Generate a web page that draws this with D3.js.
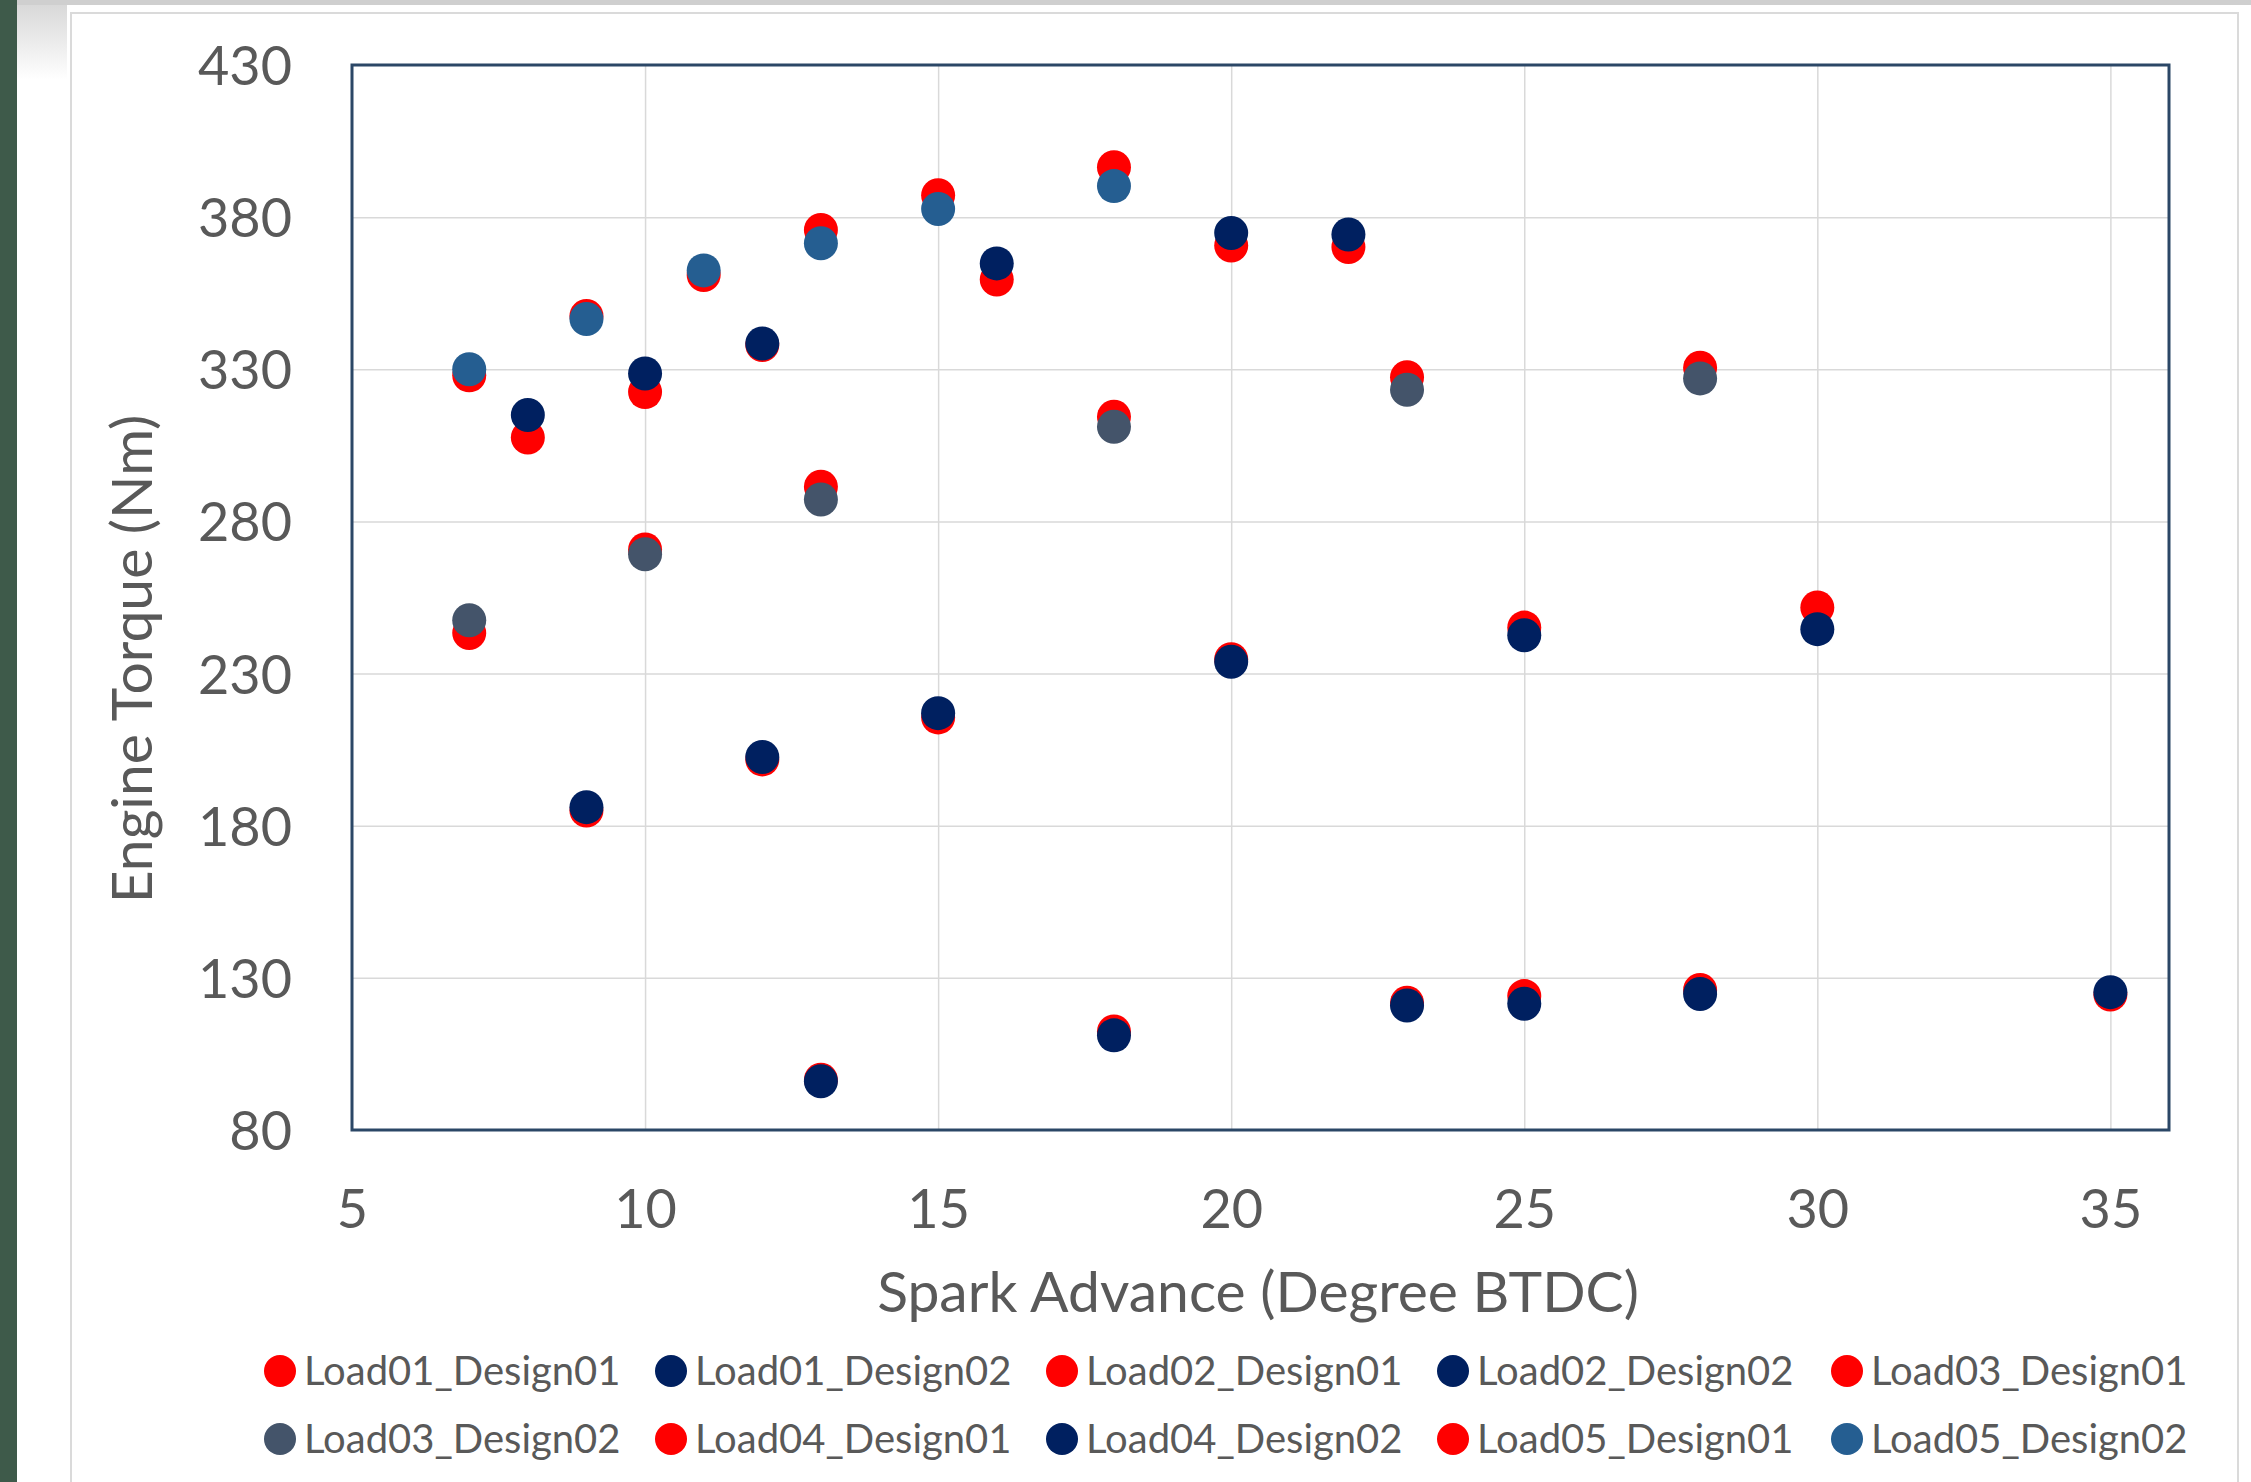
<!DOCTYPE html>
<html>
<head>
<meta charset="utf-8">
<script src="https://cdn.jsdelivr.net/npm/d3@7"></script>
<style>
  html, body { margin: 0; padding: 0; background: #ffffff; }
  svg { display: block; }
</style>
</head>
<body>
<svg id="chart" width="2251" height="1482"></svg>
<script>
// ---- Data ----
const xTicks = [5, 10, 15, 20, 25, 30, 35];
const yTicks = [80, 130, 180, 230, 280, 330, 380, 430];

const xLoad01 = [13, 18, 23, 25, 28, 35];
const load01Design01 = [96.5, 112.4, 121.8, 124, 126, 124.5];
const load01Design02 = [96, 111.1, 120.9, 121.5, 124.7, 125.3];

const xLoad02 = [9, 12, 15, 20, 25, 30];
const load02Design01 = [185, 201.8, 215.6, 234.7, 245.1, 251.7];
const load02Design02 = [186.1, 202.6, 217, 233.9, 242.6, 244.6];

const xLoad03 = [7, 10, 13, 18, 23, 28];
const load03Design01 = [243.3, 270.8, 291.4, 314.4, 327.4, 330.5];
const load03Design02 = [247.5, 269.2, 287.2, 311.1, 323.3, 327];

const xLoad04 = [8, 10, 12, 16, 20, 22];
const load04Design01 = [307.6, 322.5, 338, 359.5, 370.7, 370.2];
const load04Design02 = [315, 328.6, 338.5, 364.8, 374.8, 374.3];

const xLoad05 = [7, 9, 11, 13, 15, 18];
const load05Design01 = [328, 347.5, 361, 375.8, 387.2, 396.4];
const load05Design02 = [330, 346.5, 362.5, 371.4, 382.7, 390.2];

const seriesNames = ["Load01_Design01", "Load01_Design02", "Load02_Design01", "Load02_Design02",
  "Load03_Design01", "Load03_Design02", "Load04_Design01", "Load04_Design02",
  "Load05_Design01", "Load05_Design02"];
const seriesX = [xLoad01, xLoad01, xLoad02, xLoad02, xLoad03, xLoad03, xLoad04, xLoad04, xLoad05, xLoad05];
const seriesY = [load01Design01, load01Design02, load02Design01, load02Design02,
  load03Design01, load03Design02, load04Design01, load04Design02, load05Design01, load05Design02];
const seriesColors = ["#FF0000", "#002060", "#FF0000", "#002060", "#FF0000", "#44546A",
  "#FF0000", "#002060", "#FF0000", "#255E91"];

const xTitle = "Spark Advance (Degree BTDC)";
const yTitle = "Engine Torque (Nm)";

// ---- Layout ----
const W = 2251, H = 1482;
const plot = { left: 352, right: 2169, top: 65, bottom: 1130 };
const FONT = "Lato, 'Open Sans', sans-serif";
const TEXT = "#595959";

const svg = d3.select("#chart");

// background frame (photo surroundings)
svg.append("rect").attr("x", 0).attr("y", 0).attr("width", W).attr("height", H).attr("fill", "#ffffff");
const grad = svg.append("defs").append("linearGradient").attr("id", "topfade")
  .attr("x1", 0).attr("y1", 0).attr("x2", 0).attr("y2", 1);
grad.append("stop").attr("offset", 0).attr("stop-color", "#d6d6d6");
grad.append("stop").attr("offset", 1).attr("stop-color", "#ffffff");
svg.append("rect").attr("x", 17).attr("y", 0).attr("width", 50).attr("height", 80).attr("fill", "url(#topfade)");
svg.append("rect").attr("x", 17).attr("y", 0).attr("width", W - 17).attr("height", 5).attr("fill", "#cfcfcf");
svg.append("rect").attr("x", 0).attr("y", 0).attr("width", 17).attr("height", H).attr("fill", "#3E5A4A");
svg.append("rect").attr("x", 71).attr("y", 13).attr("width", 2238 - 71).attr("height", H)
  .attr("fill", "none").attr("stroke", "#dadada").attr("stroke-width", 2);

// ---- Scales ----
const x = d3.scaleLinear().domain([5, 36]).range([plot.left, plot.right]);
const y = d3.scaleLinear().domain([80, 430]).range([plot.bottom, plot.top]);

// gridlines
const gx = svg.append("g").attr("transform", `translate(0,${plot.bottom})`)
  .call(d3.axisBottom(x).tickValues(xTicks.filter(v => v > 5)).tickSize(-(plot.bottom - plot.top)).tickFormat(""));
gx.select(".domain").remove();
gx.selectAll("line").attr("stroke", "#d9d9d9").attr("stroke-width", 1.5);

const gy = svg.append("g").attr("transform", `translate(${plot.left},0)`)
  .call(d3.axisLeft(y).tickValues(yTicks.filter(v => v > 80 && v < 430)).tickSize(-(plot.right - plot.left)).tickFormat(""));
gy.select(".domain").remove();
gy.selectAll("line").attr("stroke", "#d9d9d9").attr("stroke-width", 1.5);

// tick labels via axes
const ax = svg.append("g").attr("transform", `translate(0,${plot.bottom})`)
  .call(d3.axisBottom(x).tickValues(xTicks).tickSize(0).tickPadding(60).tickFormat(d3.format("d")));
ax.select(".domain").remove();
ax.selectAll("text").attr("font-family", FONT).attr("font-size", 54).attr("fill", TEXT);

const ay = svg.append("g").attr("transform", `translate(${plot.left},0)`)
  .call(d3.axisLeft(y).tickValues(yTicks).tickSize(0).tickPadding(60).tickFormat(d3.format("d")));
ay.select(".domain").remove();
ay.selectAll("text").attr("font-family", FONT).attr("font-size", 54).attr("fill", TEXT).attr("dy", "0.36em");

// plot border
svg.append("rect").attr("x", plot.left).attr("y", plot.top)
  .attr("width", plot.right - plot.left).attr("height", plot.bottom - plot.top)
  .attr("fill", "none").attr("stroke", "#2B4766").attr("stroke-width", 3);

// points
const R = 17;
seriesNames.forEach((name, i) => {
  const pts = seriesX[i].map((xv, j) => ({ x: xv, y: seriesY[i][j] }));
  svg.append("g").attr("class", "series").selectAll("circle").data(pts).join("circle")
    .attr("cx", d => x(d.x)).attr("cy", d => y(d.y)).attr("r", R)
    .attr("fill", seriesColors[i]);
});

// axis titles
svg.append("text").attr("x", 1258).attr("y", 1292).attr("text-anchor", "middle").attr("dy", "0.35em")
  .attr("font-family", FONT).attr("font-size", 57).attr("fill", TEXT).text(xTitle);
svg.append("text").attr("transform", "translate(132,659) rotate(-90)").attr("text-anchor", "middle").attr("dy", "0.35em")
  .attr("font-family", FONT).attr("font-size", 57).attr("fill", TEXT).text(yTitle);

// legend
const legendX = [280, 671, 1062, 1453, 1847];
const legendY = [1371, 1439];
const lg = svg.append("g");
seriesNames.forEach((name, i) => {
  const cx = legendX[i % 5], cy = legendY[Math.floor(i / 5)];
  const it = lg.append("g");
  it.append("circle").attr("cx", cx).attr("cy", cy).attr("r", 16).attr("fill", seriesColors[i]);
  it.append("text").attr("x", cx + 24).attr("y", cy).attr("dy", "0.35em")
    .attr("font-family", FONT).attr("font-size", 40).attr("fill", TEXT).text(name);
});
</script>
</body>
</html>
